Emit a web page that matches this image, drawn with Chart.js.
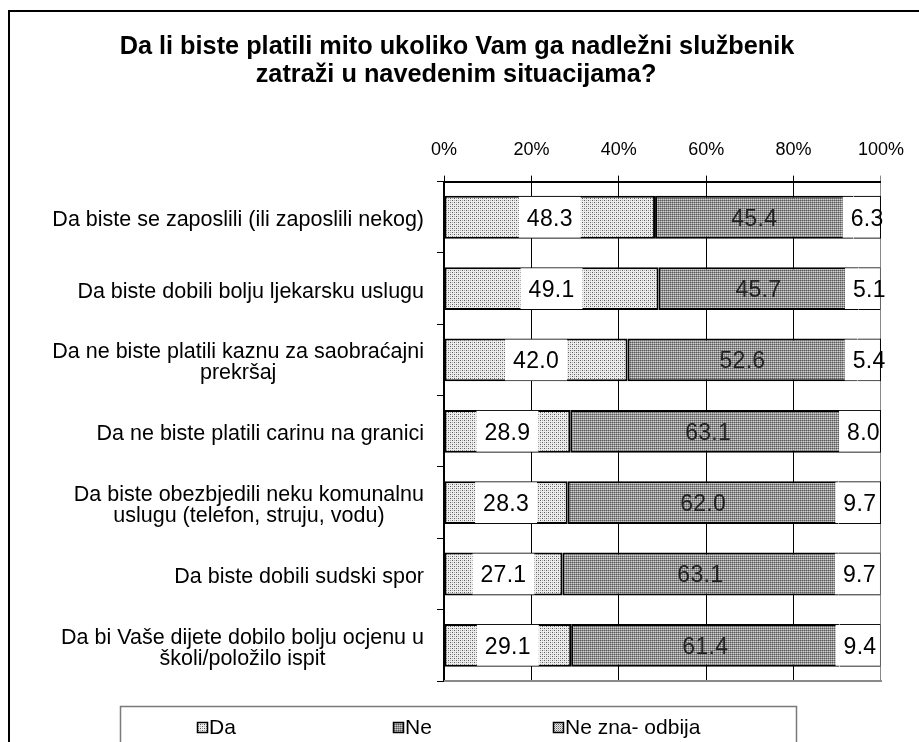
<!DOCTYPE html>
<html>
<head>
<meta charset="utf-8">
<script src="https://cdn.jsdelivr.net/npm/chart.js@4.4.0/dist/chart.umd.min.js"></script>
<style>
  html, body { margin: 0; padding: 0; background: #fff; }
  #wrap { width: 919px; height: 742px; position: relative; }
</style>
</head>
<body>
<div id="wrap"><canvas id="chart"></canvas></div>
<script>
const titleLines = ["Da li biste platili mito ukoliko Vam ga nadležni službenik", "zatraži u navedenim situacijama?"];
const categories = [
  ["Da biste se zaposlili (ili zaposlili nekog)"],
  ["Da biste dobili bolju ljekarsku uslugu"],
  ["Da ne biste platili kaznu za saobraćajni", "prekršaj"],
  ["Da ne biste platili carinu na granici"],
  ["Da biste obezbjedili neku komunalnu", "uslugu (telefon, struju, vodu)"],
  ["Da biste dobili sudski spor"],
  ["Da bi Vaše dijete dobilo bolju ocjenu u", "školi/položilo ispit"]
];
const seriesNames = ["Da", "Ne", "Ne zna- odbija"];
const daValues = [48.3, 49.1, 42.0, 28.9, 28.3, 27.1, 29.1];
const neValues = [45.4, 45.7, 52.6, 63.1, 62.0, 63.1, 61.4];
const neznaValues = [6.3, 5.1, 5.4, 8.0, 9.7, 9.7, 9.4];

const FONT = "'Liberation Sans', Arial, sans-serif";
const canvas = document.getElementById("chart");
const ctx0 = canvas.getContext("2d");

// little dotted tiles, like the old excel fills
function makePattern(size, bg, dots) {
  const c = document.createElement("canvas");
  c.width = size; c.height = size;
  const g = c.getContext("2d");
  g.fillStyle = bg;
  g.fillRect(0, 0, size, size);
  dots.forEach(d => { g.fillStyle = d[2]; g.fillRect(d[0], d[1], 1, 1); });
  return ctx0.createPattern(c, "repeat");
}
const patDa = makePattern(4, "#eeeeee", [[0,0,"#5a5a5a"],[2,2,"#5a5a5a"],[2,0,"#a8a8a8"],[0,2,"#a8a8a8"]]);
const patNe = makePattern(2, "#cfcfcf", [[0,0,"#5a5a5a"],[1,0,"#8e8e8e"],[0,1,"#9e9e9e"]]);
const patNezna = makePattern(2, "#eeeeee", [[0,0,"#666666"],[1,1,"#a6a6a6"]]);
const fills = [patDa, patNe, patNezna];

const decor = {
  id: "decor",
  beforeDraw(chart) {
    const c = chart.ctx;
    c.save();
    c.fillStyle = "#fff";
    c.fillRect(0, 0, chart.width, chart.height);
    c.restore();
  },
  afterDatasetsDraw(chart) {
    const c = chart.ctx;
    const area = chart.chartArea;
    c.save();
    c.font = "23px " + FONT;
    c.letterSpacing = "0.3px";
    c.textAlign = "center";
    c.textBaseline = "middle";
    chart.data.datasets.forEach((ds, d) => {
      const meta = chart.getDatasetMeta(d);
      meta.data.forEach((bar, i) => {
        const p = bar.getProps(["x", "base", "y", "height"], true);
        const cx = (p.x + p.base) / 2;
        const txt = ds.data[i].toFixed(1);
        const w = c.measureText(txt).width;
        if (d !== 1) {
          let l = cx - w / 2 - 8, r = cx + w / 2 + 8;
          r = Math.min(r, area.right - 1);
          c.fillStyle = "#fff";
          c.fillRect(l, p.y - p.height / 2 + 1, r - l, p.height - 2);
        }
        c.fillStyle = d === 1 ? "#222" : "#000";
        c.fillText(txt, cx, p.y + 2);
      });
    });
    c.restore();
  },
  afterDraw(chart) {
    const c = chart.ctx;
    const area = chart.chartArea;
    const yScale = chart.scales.y;
    c.save();

    // plot bottom edge (grey)
    c.strokeStyle = "#8a8a8a";
    c.lineWidth = 2;
    c.beginPath();
    c.moveTo(area.left, area.bottom);
    c.lineTo(area.right + 1, area.bottom);
    c.stroke();

    // title
    c.fillStyle = "#000";
    c.font = "bold 25.3px " + FONT;
    c.textAlign = "center";
    c.textBaseline = "middle";
    c.fillText(titleLines[0], 457, 47);
    c.fillText(titleLines[1], 456, 75);

    // category labels, right aligned block, lines centred
    c.font = "21.5px " + FONT;
    categories.forEach((lines, i) => {
      const yc = yScale.getPixelForValue(i) + 3;
      const widths = lines.map(s => c.measureText(s).width);
      const bw = Math.max(...widths);
      const cx = 424 - bw / 2;
      const lh = 21;
      lines.forEach((s, k) => {
        c.fillText(s, cx, yc + (k - (lines.length - 1) / 2) * lh);
      });
    });

    // legend box
    c.strokeStyle = "#7a7a7a";
    c.lineWidth = 1.5;
    c.strokeRect(120.5, 706.5, 676, 60);
    const legX = [197, 393, 553];
    c.font = "21px " + FONT;
    c.textAlign = "left";
    seriesNames.forEach((name, k) => {
      c.fillStyle = fills[k];
      c.fillRect(legX[k], 722, 10, 10);
      c.strokeStyle = "#000";
      c.lineWidth = 1.5;
      c.strokeRect(legX[k] + 0.5, 722.5, 10, 10);
      c.fillStyle = "#000";
      c.fillText(name, legX[k] + 12, 728);
    });

    // outer frame
    c.strokeStyle = "#000";
    c.lineWidth = 2;
    c.strokeRect(9, 11, 930, 760);
    c.restore();
  }
};

new Chart(canvas, {
  type: "bar",
  data: {
    labels: categories,
    datasets: [
      { label: seriesNames[0], data: daValues, backgroundColor: patDa },
      { label: seriesNames[1], data: neValues, backgroundColor: patNe },
      { label: seriesNames[2], data: neznaValues, backgroundColor: patNezna }
    ].map(ds => Object.assign(ds, {
      borderColor: "#000",
      borderWidth: 2,
      borderSkipped: false,
      barPercentage: 0.6,
      categoryPercentage: 1
    }))
  },
  options: {
    indexAxis: "y",
    responsive: true,
    maintainAspectRatio: false,
    animation: false,
    layout: { padding: { top: 124, right: 30, bottom: 61, left: 0 } },
    plugins: {
      legend: { display: false },
      title: { display: false },
      tooltip: { enabled: false }
    },
    scales: {
      x: {
        position: "top",
        stacked: true,
        min: 0,
        max: 100,
        ticks: {
          stepSize: 20,
          padding: 15,
          color: "#000",
          font: { family: FONT, size: 18 },
          callback: v => v + "%"
        },
        grid: {
          color: c => (c.tick && c.tick.value === 100 ? "#8a8a8a" : "#000"),
          lineWidth: 1,
          tickLength: 6
        },
        border: { color: "#000", width: 2 }
      },
      y: {
        stacked: true,
        ticks: { display: false },
        grid: { offset: true, drawOnChartArea: false, tickLength: 7, color: "#000", lineWidth: 1 },
        border: { color: "#000", width: 2 },
        afterFit: s => { s.width = 444; }
      }
    }
  },
  plugins: [decor]
});
</script>
</body>
</html>
